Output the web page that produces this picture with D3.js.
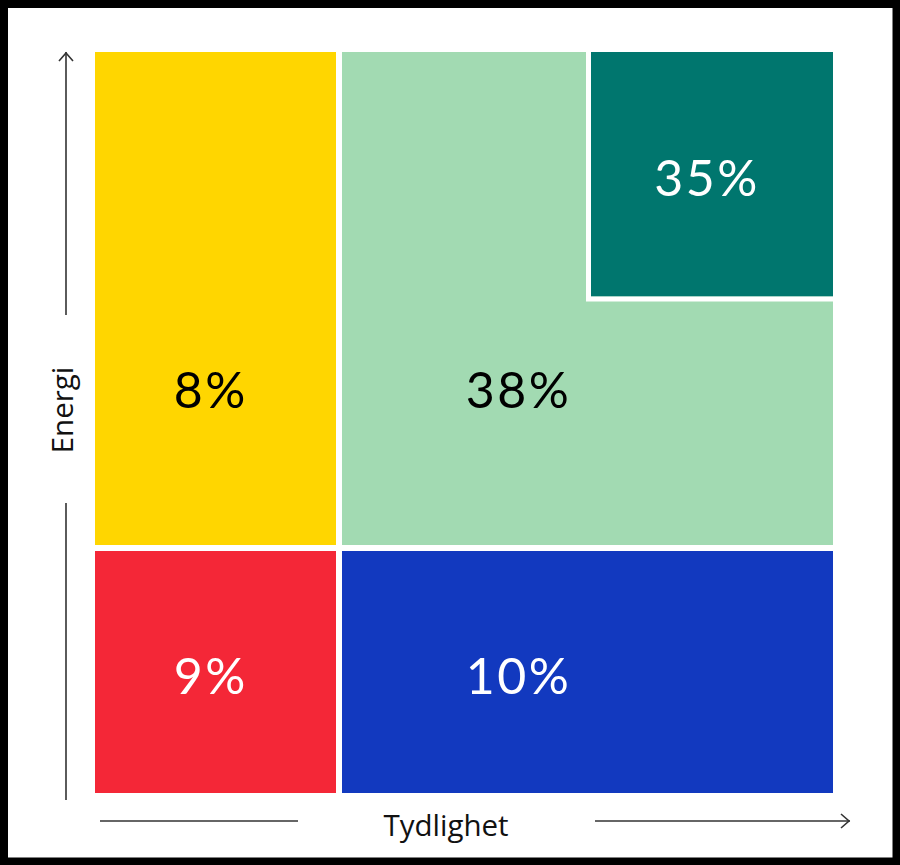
<!DOCTYPE html>
<html>
<head>
<meta charset="utf-8">
<script src="https://cdn.jsdelivr.net/npm/d3@7"></script>
<style>
  body { margin: 0; background: #fff; }
</style>
</head>
<body>
<div id="chart"></div>
<script>
// cells of the energy / clarity matrix, in grid units (x: Tydlighet, y: Energi)
const labels = ["8%", "38%", "35%", "9%", "10%"];
const values = [8, 38, 35, 9, 10];
const colors = ["#FFD600", "#A2DAB2", "#00766E", "#F42737", "#1239BF"];
const textColors = ["#000", "#000", "#fff", "#fff", "#fff"];
const x0 = [0, 1, 2, 0, 1];
const x1 = [1, 3, 3, 1, 3];
const y0 = [1, 1, 2, 0, 0];
const y1 = [3, 3, 3, 1, 1];
// label anchor points, grid units
const lx = [0.475, 1.72, 2.485, 0.475, 1.72];
const ly = [1.635, 1.635, 2.49, 0.478, 0.478];

const width = 900;
const height = 865;

const svg = d3.select("#chart")
  .append("svg")
  .attr("width", width)
  .attr("height", height);

const x = d3.scaleLinear().domain([0, 1, 2, 3]).range([95, 339, 588.5, 833]);
const y = d3.scaleLinear().domain([0, 1, 2, 3]).range([793, 548, 299, 52]);

const cells = labels.map((l, i) => ({
  label: l, value: values[i], color: colors[i], tc: textColors[i],
  x0: x0[i], x1: x1[i], y0: y0[i], y1: y1[i], lx: lx[i], ly: ly[i],
  gap: i === 2 ? 2.5 : 3
}));

const edge = (d, v) => (v === 0 || v === 3 ? 0 : d.gap);

// Rutene
svg.selectAll(".cell")
  .data(cells)
  .enter()
  .append("rect")
  .attr("class", "cell")
  .attr("x", d => x(d.x0) + edge(d, d.x0))
  .attr("y", d => y(d.y1) + edge(d, d.y1))
  .attr("width", d => x(d.x1) - x(d.x0) - edge(d, d.x0) - edge(d, d.x1))
  .attr("height", d => y(d.y0) - y(d.y1) - edge(d, d.y0) - edge(d, d.y1))
  .attr("fill", d => d.color);

// white frame round the inset cell
const inset = cells[2];
svg.append("path")
  .attr("fill", "none")
  .attr("stroke", "#fff")
  .attr("stroke-width", 5)
  .attr("d", `M${x(inset.x0)},${y(inset.y1)} V${y(inset.y0)} H${x(inset.x1)}`);

// Tall
svg.selectAll(".lbl")
  .data(cells)
  .enter()
  .append("text")
  .attr("class", "lbl")
  .attr("x", d => x(d.lx))
  .attr("y", d => y(d.ly))
  .attr("text-anchor", "middle")
  .attr("dy", "0.36em")
  .attr("font-family", "Lato, sans-serif")
  .attr("font-size", 50)
  .attr("letter-spacing", 2.5)
  .attr("fill", d => d.tc)
  .text(d => d.label);

// Akser
const axisColor = "#333";
const line = (x1v, y1v, x2v, y2v) => svg.append("line")
  .attr("x1", x1v).attr("y1", y1v).attr("x2", x2v).attr("y2", y2v)
  .attr("stroke", axisColor).attr("stroke-width", 1.6);

line(66, 315, 66, 52);
line(66, 503, 66, 800);
svg.append("path")
  .attr("d", "M59,61 L66,53 L73,61")
  .attr("fill", "none").attr("stroke", axisColor).attr("stroke-width", 1.6);

line(100, 821, 298, 821);
line(595, 821, 850, 821);
svg.append("path")
  .attr("d", "M841,814 L849,821 L841,828")
  .attr("fill", "none").attr("stroke", axisColor).attr("stroke-width", 1.6);

svg.append("text")
  .attr("x", 446)
  .attr("y", 836)
  .attr("text-anchor", "middle")
  .attr("font-family", "'Open Sans', sans-serif")
  .attr("font-size", 29.5)
  .attr("fill", "#111")
  .text("Tydlighet");

svg.append("text")
  .attr("transform", "translate(73,410) rotate(-90)")
  .attr("text-anchor", "middle")
  .attr("font-family", "'Open Sans', sans-serif")
  .attr("font-size", 29.5)
  .attr("fill", "#111")
  .text("Energi");

// Ramme
svg.append("rect")
  .attr("x", 4)
  .attr("y", 4)
  .attr("width", 892.5)
  .attr("height", 857.5)
  .attr("fill", "none")
  .attr("stroke", "#000")
  .attr("stroke-width", 8);
</script>
</body>
</html>
